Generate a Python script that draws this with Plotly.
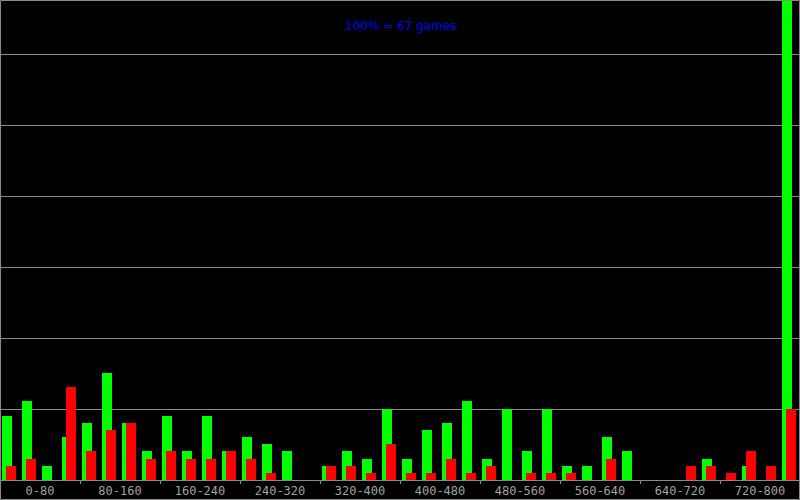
import plotly.graph_objects as go

# games per bin (40 bins of width 20 over 0..800), 100% = 67 games
green = [9, 11, 2, 6, 8, 15, 8, 4, 9, 4,
         9, 4, 6, 5, 4, 0, 2, 4, 3, 10,
         3, 7, 8, 11, 3, 10, 4, 10, 2, 2,
         6, 4, 0, 0, 0, 3, 0, 2, 0, 67]
red = [2, 3, 0, 13, 4, 7, 8, 3, 4, 3,
       3, 4, 3, 1, 0, 0, 2, 2, 1, 5,
       1, 1, 3, 1, 2, 0, 1, 1, 1, 0,
       3, 0, 0, 0, 2, 2, 1, 4, 2, 10]
range_labels = ["0-80", "80-160", "160-240", "240-320", "320-400",
                "400-480", "480-560", "560-640", "640-720", "720-800"]
title_text = "100% = 67 games"
total_games = 67

bins = list(range(len(green)))
GRAY = "#8a8a8a"
y_top = total_games * 1.002
grid_step = 71 / (480 / y_top)  # grid every 71 px

fig = go.Figure()
fig.add_trace(go.Bar(x=bins, y=green, width=0.5, offset=0.1,
                     marker=dict(color="#00ff00", line=dict(width=0)),
                     showlegend=False, hoverinfo="skip"))
fig.add_trace(go.Bar(x=bins, y=red, width=0.5, offset=0.3,
                     marker=dict(color="#ff0000", line=dict(width=0)),
                     showlegend=False, hoverinfo="skip"))

fig.update_layout(
    width=800, height=500,
    margin=dict(l=0, r=0, t=0, b=20, pad=0),
    paper_bgcolor="#000000", plot_bgcolor="#000000",
    barmode="overlay", bargap=0,
    xaxis=dict(range=[0, 40], showgrid=False, zeroline=False,
               tickvals=[4 * i + 2 for i in range(len(range_labels))],
               ticktext=range_labels, ticks="",
               tickfont=dict(family="DejaVu Sans Mono", size=12, color="#a0a0a0"),
               showline=True, linecolor=GRAY, linewidth=1,
               minor=dict(tick0=0, dtick=4, ticks="outside", ticklen=3,
                          tickcolor=GRAY, tickwidth=1, showgrid=False)),
    yaxis=dict(range=[0, y_top], showgrid=True, gridcolor=GRAY, gridwidth=1,
               tick0=0, dtick=grid_step, zeroline=False, showticklabels=False, ticks=""),
    annotations=[dict(text=title_text, x=0.5, y=1 - 26 / 480, xref="paper", yref="paper",
                      showarrow=False, xanchor="center", yanchor="middle",
                      font=dict(family="DejaVu Sans", size=12, color="#0000ff"))],
    shapes=[dict(type="rect", xref="paper", yref="paper",
                 x0=0.5 / 800, x1=1 - 0.5 / 800, y0=-19.5 / 480, y1=1 - 0.5 / 480,
                 line=dict(color=GRAY, width=1), fillcolor="rgba(0,0,0,0)", layer="above")],
)

fig.write_html("out.html", config={"displayModeBar": False},
               post_script="document.body.style.margin='0';document.body.style.overflow='hidden';")
